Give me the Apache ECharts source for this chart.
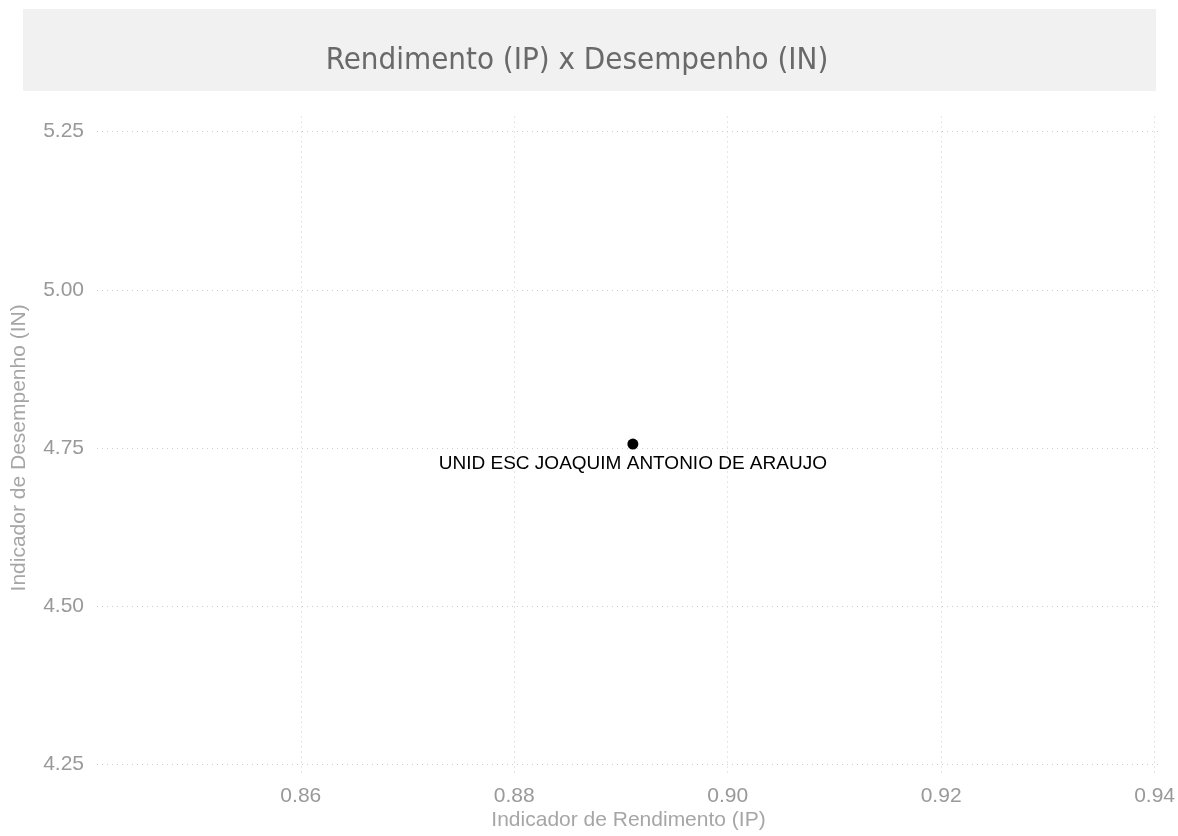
<!DOCTYPE html>
<html>
<head>
<meta charset="utf-8">
<script src="https://cdn.jsdelivr.net/npm/echarts@6/dist/echarts.min.js"></script>
<style>
html,body{margin:0;padding:0;background:#fff;}
#chart{width:1178px;height:836px;}
</style>
</head>
<body>
<div id="chart"></div>
<script>
// ---- data ----
const chartTitle = 'Rendimento (IP) x Desempenho (IN)';
const xAxisName = 'Indicador de Rendimento (IP)';
const yAxisName = 'Indicador de Desempenho (IN)';
const schoolNames = ['UNID ESC JOAQUIM ANTONIO DE ARAUJO'];
const ipValues = [0.8911];
const inValues = [4.757];
const xTicks = [0.86, 0.88, 0.90, 0.92, 0.94];
const yTicks = [4.25, 4.50, 4.75, 5.00, 5.25];

// ---- build ----
const points = schoolNames.map((n, i) => ({ name: n, value: [ipValues[i], inValues[i]] }));
const xMin = xTicks[0], xMax = xTicks[xTicks.length - 1], xStep = +(xTicks[1] - xTicks[0]).toFixed(4);
const yMin = yTicks[0], yMax = yTicks[yTicks.length - 1], yStep = +(yTicks[1] - yTicks[0]).toFixed(4);

const gridLine = { show: true, lineStyle: { color: '#cccccc', width: 1, type: [1, 4] } };
const labelStyle = { color: '#999999', fontSize: 21, fontFamily: 'Liberation Sans, Arial, sans-serif' };
const nameStyle = { color: '#a6a6a6', fontSize: 21, fontFamily: 'Liberation Sans, Arial, sans-serif' };

const chart = echarts.init(document.getElementById('chart'), null, { renderer: 'canvas' });
chart.setOption({
  backgroundColor: '#ffffff',
  animation: false,
  graphic: [{
    type: 'rect', z: -10,
    shape: { x: 23, y: 9, width: 1133, height: 82 },
    style: { fill: '#f1f1f1' }
  }],
  title: {
    text: chartTitle,
    left: 572, top: 56, textAlign: 'center', textVerticalAlign: 'middle',
    textStyle: { color: '#696969', fontSize: 31, fontWeight: 'normal', fontFamily: 'DejaVu Sans Condensed, sans-serif' }
  },
  grid: [
    // grid for vertical grid lines + x labels
    { left: 300.8, right: 23, top: 116.5, bottom: 60 },
    // grid for horizontal grid lines + y labels
    { left: 97, right: 18, top: 131.7, bottom: 70.7 },
    // data grid
    { left: 300.8, right: 23, top: 131.7, bottom: 70.7 }
  ],
  xAxis: [
    { gridIndex: 0, type: 'value', min: xMin, max: xMax, interval: xStep,
      axisLine: { show: false }, axisTick: { show: false },
      axisLabel: Object.assign({ margin: 10, formatter: v => v.toFixed(2) }, labelStyle),
      splitLine: gridLine },
    { gridIndex: 1, type: 'value', min: 0, max: 1,
      axisLine: { show: false }, axisTick: { show: false }, axisLabel: { show: false }, splitLine: { show: false },
      name: xAxisName, nameLocation: 'middle', nameGap: 46, nameTextStyle: nameStyle },
    { gridIndex: 2, type: 'value', min: xMin, max: xMax, show: false }
  ],
  yAxis: [
    { gridIndex: 0, type: 'value', min: 0, max: 1, show: false },
    { gridIndex: 1, type: 'value', min: yMin, max: yMax, interval: yStep,
      axisLine: { show: false }, axisTick: { show: false },
      axisLabel: Object.assign({ margin: 13, formatter: v => v.toFixed(2) }, labelStyle),
      splitLine: gridLine,
      name: yAxisName, nameLocation: 'middle', nameGap: 67, nameTextStyle: nameStyle },
    { gridIndex: 2, type: 'value', min: yMin, max: yMax, show: false }
  ],
  series: [{
    type: 'scatter',
    xAxisIndex: 2, yAxisIndex: 2,
    data: points,
    symbolSize: 11,
    itemStyle: { color: '#000000', opacity: 1 },
    label: {
      show: true, position: 'bottom', distance: 5,
      formatter: p => p.name,
      color: '#000000', opacity: 1, fontSize: 19, fontFamily: 'Liberation Sans, Arial, sans-serif'
    }
  }]
});
</script>
</body>
</html>
